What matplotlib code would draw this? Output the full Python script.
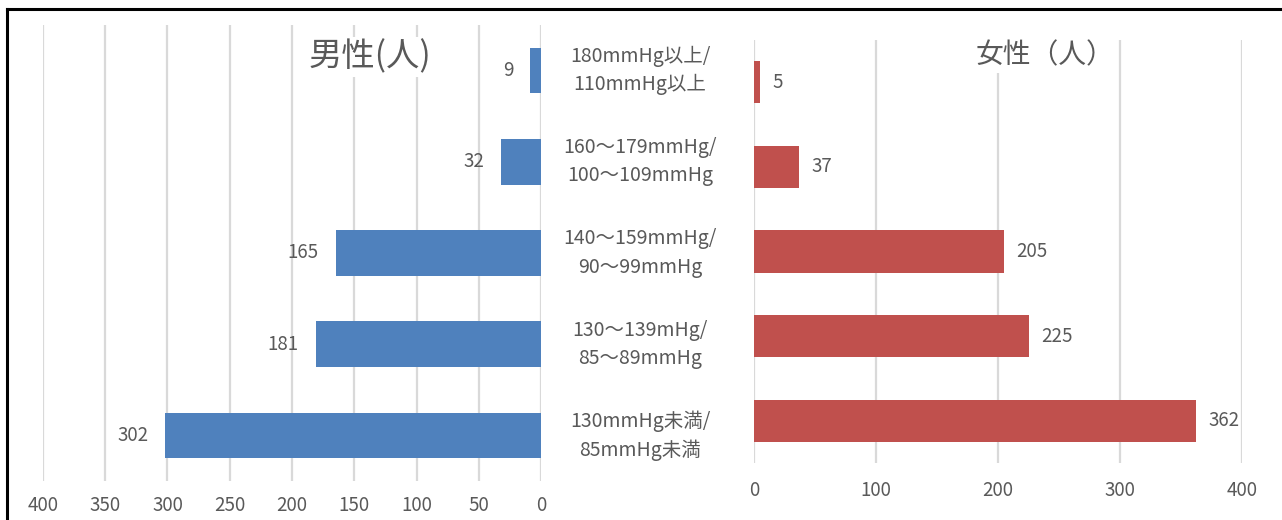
import matplotlib
matplotlib.use("Agg")
import matplotlib.pyplot as plt
from matplotlib.lines import Line2D
from matplotlib.transforms import blended_transform_factory

plt.rcParams['font.family'] = ['Noto Sans CJK JP', 'DejaVu Sans']

# Blood pressure categories (top to bottom)
categories = [
    "180mmHg以上/\n110mmHg以上",
    "160～179mmHg/\n100～109mmHg",
    "140～159mmHg/\n90～99mmHg",
    "130～139mHg/\n85～89mmHg",
    "130mmHg未満/\n85mmHg未満",
]
male_counts = [9, 32, 165, 181, 302]
female_counts = [5, 37, 205, 225, 362]

male_ticks = [0, 50, 100, 150, 200, 250, 300, 350, 400]
female_ticks = [0, 100, 200, 300, 400]

BLUE = "#4F81BD"
RED = "#C0504D"
GRID = "#D9D9D9"
TEXT = "#595959"

W, H = 1282, 520
fig = plt.figure(figsize=(W / 100, H / 100), dpi=100)


def frac_box(x0, x1, y0, y1):
    return [x0 / W, 1 - y1 / H, (x1 - x0) / W, (y1 - y0) / H]


ax_m = fig.add_axes(frac_box(43, 541, 25, 481))
ax_f = fig.add_axes(frac_box(754, 1242, 40, 463))

ypos = list(range(len(categories)))

for ax, vals, color, ticks, pad in ((ax_m, male_counts, BLUE, male_ticks, 10),
                                    (ax_f, female_counts, RED, female_ticks, 12)):
    ax.barh(ypos, vals, height=0.5, color=color, zorder=2)
    ax.set_xlim(0, 400)
    ax.set_ylim(len(categories) - 0.5, -0.5)
    ax.set_xticks(ticks)
    ax.set_yticks([])
    ax.grid(axis="x", color=GRID, linewidth=1.6, zorder=0)
    for s in ax.spines.values():
        s.set_visible(False)
    ax.tick_params(axis="x", length=0, pad=pad, labelsize=13.5, labelcolor=TEXT)

ax_m.invert_xaxis()

# Value labels
for y, v in zip(ypos, male_counts):
    ax_m.annotate(str(v), (v, y), xytext=(-12, 0), textcoords="offset points",
                  ha="right", va="center", fontsize=13.5, color=TEXT)
for y, v in zip(ypos, female_counts):
    ax_f.annotate(str(v), (v, y), xytext=(9, 0), textcoords="offset points",
                  ha="left", va="center", fontsize=13.5, color=TEXT)

# Category labels between the two panels
tr = blended_transform_factory(fig.transFigure, ax_m.transData)
for y, c in zip(ypos, categories):
    fig.text(640 / W, y, c, transform=tr, ha="center", va="center",
             fontsize=14, color=TEXT, linespacing=1.45)

# Panel titles with white boxes over the grid
fig.text(370 / W, 1 - 57 / H, "男性(人)", ha="center", va="center",
         fontsize=24, color=TEXT,
         bbox=dict(facecolor="white", edgecolor="none", pad=2))
fig.text(1045 / W, 1 - 55 / H, "女性（人）", ha="center", va="center",
         fontsize=20, color=TEXT,
         bbox=dict(facecolor="white", edgecolor="none", pad=2))

# Frame edges
fig.add_artist(Line2D([7 / W, 1], [1 - 8.5 / H, 1 - 8.5 / H],
                      transform=fig.transFigure, color="black", linewidth=2.2))
fig.add_artist(Line2D([7 / W, 7 / W], [0, 1 - 8.5 / H],
                      transform=fig.transFigure, color="black", linewidth=2.2))

fig.savefig("out.png", dpi=100, facecolor="white")
